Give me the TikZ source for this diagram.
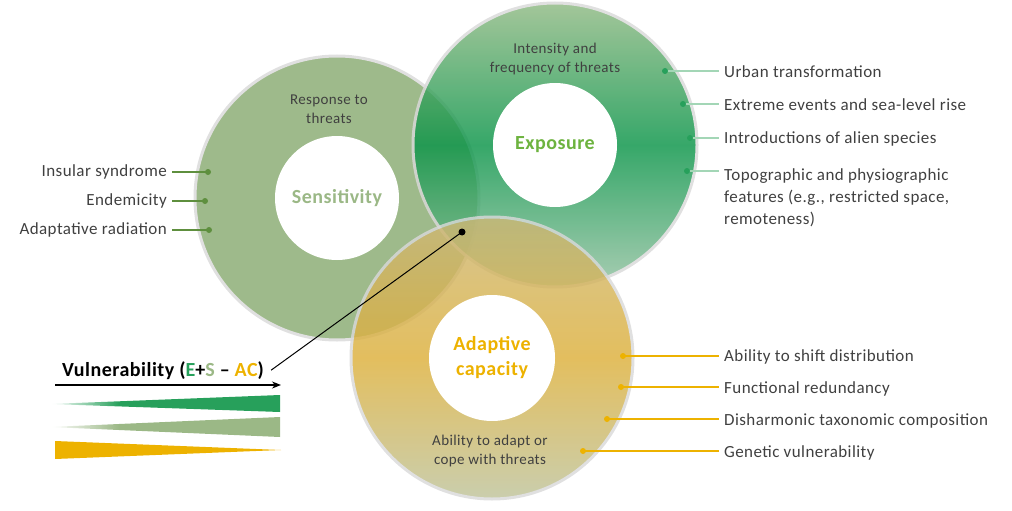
\documentclass[tikz,border=0pt]{standalone}
\usepackage{fontspec}
\setmainfont{Carlito}[LetterSpace=2.5]
\usepackage{tkz-euclide}
\usetikzlibrary{arrows.meta}

\definecolor{txtgray}{HTML}{404040}
\definecolor{sensfill}{HTML}{89AB71}
\definecolor{senstxt}{HTML}{9BB886}
\definecolor{sensline}{HTML}{5E8F3E}
\definecolor{exptop}{HTML}{8FB983}
\definecolor{expmid}{HTML}{0A9448}
\definecolor{expbot}{HTML}{95C2A2}
\definecolor{exptxt}{HTML}{6DB33F}
\definecolor{expdark}{HTML}{27A05B}
\definecolor{expline}{HTML}{A3D6B6}
\definecolor{adatop}{HTML}{CDB878}
\definecolor{adamid}{HTML}{DDB03B}
\definecolor{adabot}{HTML}{BEC39B}
\definecolor{adapt}{HTML}{EDB200}

\pgfdeclarehorizontalshading{fadedark}{100bp}{color(0bp)=(white); color(25bp)=(white); color(40bp)=(expdark); color(100bp)=(expdark)}
\pgfdeclarehorizontalshading{fadelight}{100bp}{color(0bp)=(white); color(25bp)=(white); color(40bp)=(senstxt); color(100bp)=(senstxt)}

\newcommand{\myShowDots}[2]{
\foreach \p in {#1} {\fill[#2] (\p) circle (3);}
}

\begin{document}
\begin{tikzpicture}[x=1pt,y=-1pt,
  lbl/.style={font=\fontsize{17}{22}\selectfont, text=txtgray, inner ysep=0pt, inner xsep=5pt},
  inside/.style={font=\fontsize{15}{19}\selectfont, text=txtgray, align=center},
  title/.style={font=\fontsize{20}{25}\selectfont\bfseries, align=center},
  rim/.style={draw=gray!30, line width=3pt},
  glass/.style={transparency group, opacity=0.82},
  hole/.style={fill=white}]
\useasboundingbox (0,0) rectangle (1012,511);
			% define points
			\tkzDefPoint(337,198){S}
			\tkzDefPoint(555,145){E}
			\tkzDefPoint(492,358){A}
			\tkzDefPoint(462,232){V}
			\tkzDefPoint(208,172){s1}
			\tkzDefPoint(205,201){s2}
			\tkzDefPoint(209,230){s3}
			\tkzDefPoint(665,71){e1}
			\tkzDefPoint(683,104){e2}
			\tkzDefPoint(690,138){e3}
			\tkzDefPoint(687,171){e4}
			\tkzDefPoint(623,356){a1}
			\tkzDefPoint(621,387){a2}
			\tkzDefPoint(607,419){a3}
			\tkzDefPoint(583,451){a4}
			\tkzDefPoint(55,385){arL}
			\tkzDefPoint(281,385){arR}
			% big circles
			\begin{scope}[glass]
				\fill[sensfill] (S) circle (142);
				\draw[rim] (S) circle (142);
			\end{scope}
			\begin{scope}[glass]
				\fill[top color=exptop, bottom color=expbot, middle color=expmid] (E) circle (142);
				\draw[rim] (E) circle (142);
			\end{scope}
			\begin{scope}[glass]
				\fill[top color=adatop, bottom color=adabot, middle color=adamid] (A) circle (141);
				\draw[rim] (A) circle (141);
			\end{scope}
			% white centres
			\fill[hole] (S) circle (62);
			\fill[hole] (E) circle (62);
			\fill[hole] (A) circle (63);
			% titles
			\node[title, text=senstxt] (sens) at (S) {Sensitivity};
			\node[title, text=exptxt] (expo) at (E) {Exposure};
			\node[title, text=adapt] (adap) at (A) {Adaptive\\capacity};
			\node[inside] (resp) at (329,109) {Response to\\threats};
			\node[inside] (inte) at (555,59) {Intensity and\\frequency of threats};
			\node[inside] (cope) at (490,451) {Ability to adapt or\\cope with threats};
			% labels
			\node[lbl, anchor=east] (ins) at (172,172) {Insular syndrome};
			\node[lbl, anchor=east] (end) at (172,201) {Endemicity};
			\node[lbl, anchor=east] (rad) at (172,230) {Adaptative radiation};
			\node[lbl, anchor=west] (urb) at (719,72) {Urban transformation};
			\node[lbl, anchor=west] (ext) at (719,105) {Extreme events and sea-level rise};
			\node[lbl, anchor=west] (ali) at (719,139) {Introductions of alien species};
			\node[lbl, anchor=north west, align=left] (topo) at (719,168) {Topographic and physiographic\\features (e.g., restricted space,\\remoteness)};
			\node[lbl, anchor=west] (shi) at (719,357) {Ability to shift distribution};
			\node[lbl, anchor=west] (fun) at (719,389) {Functional redundancy};
			\node[lbl, anchor=west] (dis) at (719,421) {Disharmonic taxonomic composition};
			\node[lbl, anchor=west] (gen) at (719,453) {Genetic vulnerability};
			% connectors
			\foreach \p/\l in {s1/ins,s2/end,s3/rad}
				\draw[sensline, line width=1.2pt] (\p) -- (\p -| \l.east);
			\foreach \p/\l in {e1/urb,e2/ext,e3/ali,e4/topo}
				\draw[expline, line width=1.2pt] (\p) -- (\p -| \l.west);
			\foreach \p/\l in {a1/shi,a2/fun,a3/dis,a4/gen}
				\draw[adapt, line width=1.2pt] (\p) -- (\p -| \l.west);
			%show points
			\myShowDots{s1,s2,s3}{sensline}
			\myShowDots{e1,e2,e3,e4}{expdark}
			\myShowDots{a1,a2,a3,a4}{adapt}
			% vulnerability
			\node[anchor=base west, inner xsep=7pt, inner ysep=0pt, font=\fontsize{20}{24}\selectfont\bfseries] (vul) at (55,376) {Vulnerability (\textcolor{expdark}{E}+\textcolor{senstxt}{S} – \textcolor{adapt}{AC})};
			\draw[line width=1pt] (V) -- (vul.east);
			\fill (V) circle (3.5);
			\draw[line width=1.3pt, -{Stealth[length=9pt, width=7pt]}] (arL) -- (arR);
			% wedges
			\shade[shading=fadedark] (50,404) -- (280,395) -- (280,412) -- cycle;
			\shade[shading=fadelight] (50,427) -- (280,417) -- (280,437) -- cycle;
			\fill[adapt] (55,441) -- (55,459) -- (281,450) -- cycle;
		\end{tikzpicture}
\end{document}
